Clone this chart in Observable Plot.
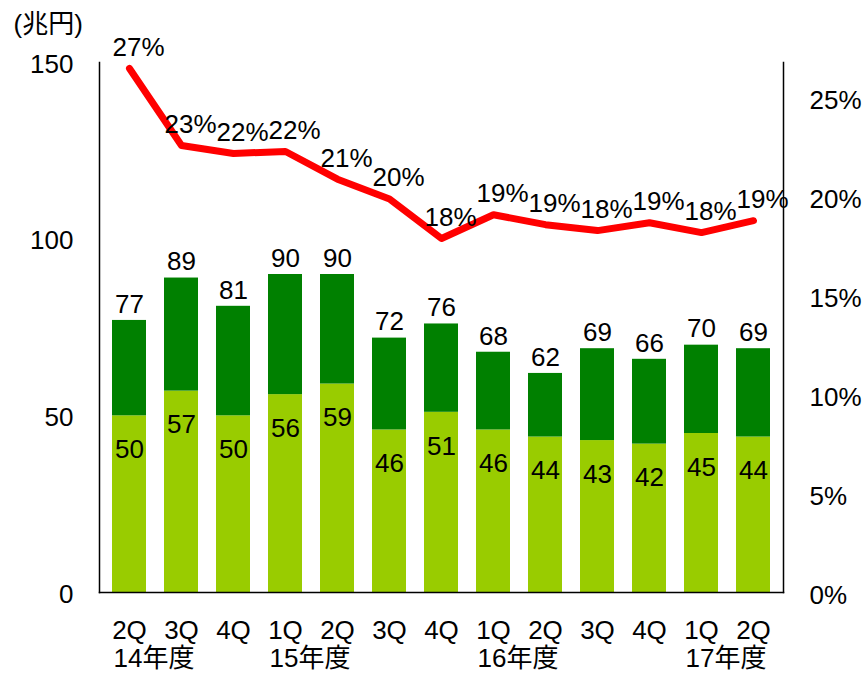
<!DOCTYPE html>
<html>
<head>
<meta charset="utf-8">
<script src="https://cdn.jsdelivr.net/npm/d3@7"></script>
<script src="https://cdn.jsdelivr.net/npm/@observablehq/plot@0.6"></script>
<style>
  html, body { margin: 0; padding: 0; background: #fff; }
  #chart svg { display: block; }
</style>
</head>
<body>
<div id="chart"></div>
<script>
// ---- data ----
const quarters = ["2Q","3Q","4Q","1Q","2Q","3Q","4Q","1Q","2Q","3Q","4Q","1Q","2Q"];
const years    = ["14年度","","","15年度","","","","16年度","","","","17年度",""];
const totals   = [77, 89, 81, 90, 90, 72, 76, 68, 62, 69, 66, 70, 69];
const lower    = [50, 57, 50, 56, 59, 46, 51, 46, 44, 43, 42, 45, 44];
const ratio    = [26.5, 22.6, 22.2, 22.3, 20.9, 19.9, 17.9, 19.1, 18.6, 18.3, 18.7, 18.2, 18.8];
const leftTicks  = [0, 50, 100, 150];
const rightTicks = [0, 5, 10, 15, 20, 25];
const unitLabel = "(兆円)";

const leftMax = 150, rightMax = 26.8;
const k = leftMax / rightMax;

const rows = quarters.map((q, i) => ({
  i, q, year: years[i], total: totals[i], lower: lower[i], ratio: ratio[i]
}));

const font = "'Liberation Sans', Arial, 'Noto Sans CJK JP', sans-serif";
const fs = 26;

const chart = Plot.plot({
  width: 865,
  height: 674,
  marginLeft: 99,
  marginRight: 82,
  marginTop: 62,
  marginBottom: 82,
  style: { fontFamily: font, fontSize: fs + "px", color: "#000", background: "#fff" },
  x: { type: "band", domain: d3.range(quarters.length), padding: 0.34, paddingOuter: 0.17 },
  y: { domain: [0, leftMax] },
  marks: [
    Plot.barY(rows, { x: "i", y1: 0, y2: "lower", fill: "#99CC00" }),
    Plot.barY(rows, { x: "i", y1: "lower", y2: "total", fill: "#008000" }),
    Plot.frame({ anchor: "left", stroke: "#000", strokeWidth: 1.5 }),
    Plot.frame({ anchor: "right", stroke: "#000", strokeWidth: 1.5 }),
    Plot.frame({ anchor: "bottom", stroke: "#000", strokeWidth: 1.5 }),
    Plot.axisY({ anchor: "left", ticks: leftTicks, tickSize: 0, tickPadding: 26, label: null, fontSize: fs, dy: 2 }),
    Plot.axisY({ anchor: "right", ticks: rightTicks.map(p => p * k), tickFormat: v => Math.round(v / k) + "%", tickSize: 0, tickPadding: 26, label: null, fontSize: fs, dy: 3 }),
    Plot.axisX({ tickSize: 0, tickPadding: 28, tickFormat: i => quarters[i], label: null, fontSize: fs }),
    Plot.text(rows.filter(d => d.year), { x: "i", y: 0, text: "year", textAnchor: "start", dx: -16, dy: 66, fontSize: fs }),
    Plot.text([unitLabel], { frameAnchor: "top-left", text: d => d, textAnchor: "start", dx: -86, dy: -48, fontSize: fs, letterSpacing: "1px" }),
    Plot.line(rows, { x: "i", y: d => d.ratio * k, stroke: "#FF0000", strokeWidth: 7, strokeLinejoin: "round", strokeLinecap: "round" }),
    Plot.text(rows, { x: "i", y: "total", text: d => String(d.total), dy: -16, fontSize: fs }),
    Plot.text(rows, { x: "i", y: "lower", text: d => String(d.lower), dy: 34, fontSize: fs }),
    Plot.text(rows, { x: "i", y: d => d.ratio * k, text: d => Math.round(d.ratio) + "%", dx: 9, dy: -21, fontSize: fs })
  ]
});

document.getElementById("chart").appendChild(chart);
</script>
</body>
</html>
